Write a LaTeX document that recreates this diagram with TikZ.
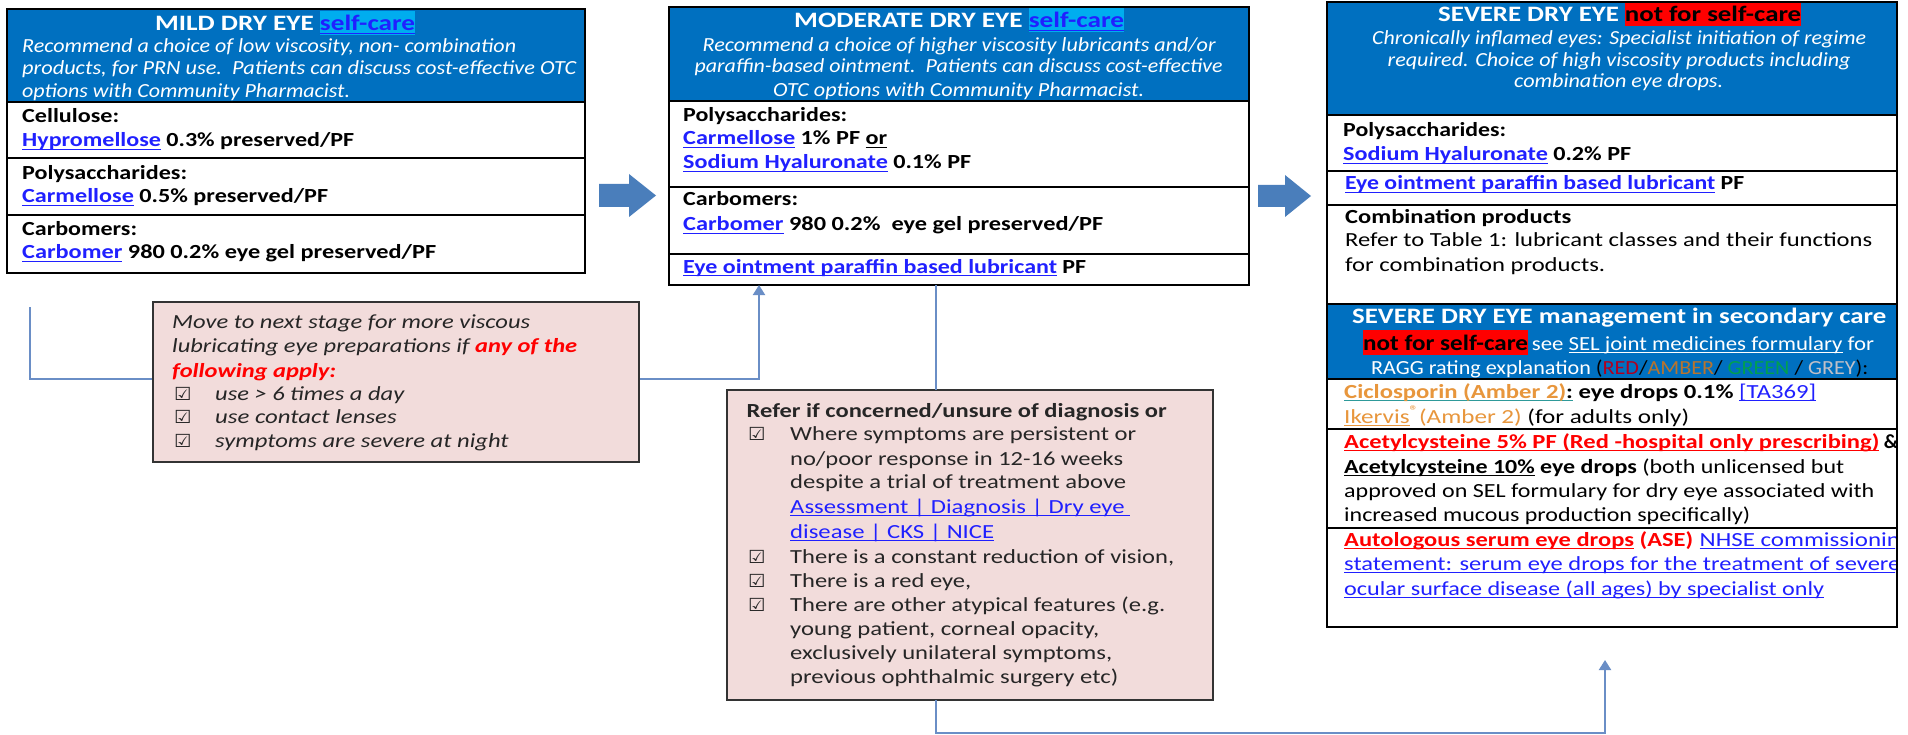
\documentclass[tikz,border=0pt]{standalone}
\usepackage{graphicx}
\usepackage{fontspec}
\setmainfont{Carlito}
\newfontfamily\symfont{DejaVu Sans}
\usetikzlibrary{arrows.meta,calc}
\definecolor{hdrblue}{HTML}{0070C0}
\definecolor{linkblue}{HTML}{2020FF}
\definecolor{pinkfill}{HTML}{F2DCDB}
\definecolor{connblue}{HTML}{6A8EC6}
\definecolor{blockblue}{HTML}{4A7EBB}
\definecolor{amberc}{HTML}{E8963C}
\definecolor{ambertxt}{HTML}{B8742E}
\definecolor{darkred}{HTML}{B00020}
\definecolor{greentxt}{HTML}{00A050}
\definecolor{greytxt}{HTML}{C0C0C8}
\definecolor{tealline}{HTML}{2E9A9A}
\definecolor{bodygrey}{HTML}{262626}
\newcommand{\myul}[1]{{\setbox0=\hbox{#1}\rlap{\vrule height -1.6pt depth 2.9pt width \wd0}\box0}}
\newcommand{\lnk}[1]{\textcolor{linkblue}{\myul{#1}}}
\newcommand{\hlstrut}{\rule[-4.5pt]{0pt}{24.5pt}}
\newcommand{\cyanhl}[1]{{\setlength{\fboxsep}{0pt}\colorbox{cyan}{\hlstrut #1}}}
\newcommand{\redhl}[1]{{\setlength{\fboxsep}{0pt}\colorbox{red}{\hlstrut\textcolor{black}{#1}}}}
\newcommand{\chk}{\resizebox{17.5pt}{\height}{\symfont\bfseries\fontsize{18}{20}\selectfont ☑}}
\newcommand{\fsz}[2]{\fontsize{#1}{#2}\selectfont}
\newcommand{\fitw}[2]{\resizebox{#1pt}{\height}{#2}}
\begin{document}
\begin{tikzpicture}[x=1pt,y=-1pt,
  frame/.style={draw=black,line width=2.2pt,inner sep=0pt,outer sep=0pt},
  pinkbox/.style={draw=black!80,fill=pinkfill,line width=2pt,inner sep=0pt,outer sep=0pt},
  divider/.style={draw=black,line width=1.8pt},
  titletxt/.style={inner sep=0pt,anchor=base west,text=white,font=\fsz{22}{25}\bfseries},
  hital/.style={inner sep=0pt,anchor=base west,text=white,font=\fsz{20}{23}\itshape},
  bodyb/.style={inner sep=0pt,anchor=base west,font=\fsz{20}{24}\bfseries},
  bodyr/.style={inner sep=0pt,anchor=base west,font=\fsz{20}{24}},
  pinkit/.style={inner sep=0pt,anchor=base west,text=bodygrey,font=\fsz{20}{23}\itshape},
  pinkr/.style={inner sep=0pt,anchor=base west,text=bodygrey,font=\fsz{20}{24}},
  chkbox/.style={inner sep=0pt,anchor=base west,text=bodygrey},
  conn/.style={draw=connblue,line width=2pt},
  tipped/.style={-{Triangle[width=12pt,length=10pt]}}
]
\useasboundingbox (0,0) rectangle (1908,735);
\fill[white] (0,0) rectangle (1908,735);

% ---------------- MILD ----------------
\fill[hdrblue] (7,9) rectangle (585,102);
\draw[divider] (7,102) -- (585,102);
\draw[divider] (7,158) -- (585,158);
\draw[divider] (7,215) -- (585,215);
\node[frame,anchor=north west,minimum width=578pt,minimum height=264pt] (mild) at (7,9) {};
\node[titletxt] (mildt) at (155,31) {\fitw{260}{MILD DRY EYE \cyanhl{\textcolor{linkblue}{\myul{self-care}}}}};
\node[hital] (mildh1) at (22,53) {\fitw{494}{Recommend a choice of low viscosity, non- combination}};
\node[hital] (mildh2) at (22,75) {\fitw{554}{products, for PRN use.\ \ Patients can discuss cost-effective OTC}};
\node[hital] (mildh3) at (22,98) {\fitw{328}{options with Community Pharmacist.}};
\node[bodyb] (mild1a) at (22,123) {\fitw{97}{Cellulose:}};
\node[bodyb] (mild1b) at (22,147) {\fitw{332}{\lnk{Hypromellose} 0.3\% preserved/PF}};
\node[bodyb] (mild2a) at (22,180) {\fitw{165}{Polysaccharides:}};
\node[bodyb] (mild2b) at (22,203) {\fitw{306}{\lnk{Carmellose} 0.5\% preserved/PF}};
\node[bodyb] (mild3a) at (22,236) {\fitw{115}{Carbomers:}};
\node[bodyb] (mild3b) at (22,259) {\fitw{414}{\lnk{Carbomer} 980 0.2\% eye gel preserved/PF}};

% ---------------- MODERATE ----------------
\fill[hdrblue] (669,7) rectangle (1249,101);
\draw[divider] (669,101) -- (1249,101);
\draw[divider] (669,187) -- (1249,187);
\draw[divider] (669,254) -- (1249,254);
\node[frame,anchor=north west,minimum width=580pt,minimum height=278pt] (moderate) at (669,7) {};
\node[titletxt] (modt) at (794,28) {\fitw{330}{MODERATE DRY EYE \cyanhl{\textcolor{linkblue}{\myul{self-care}}}}};
\node[hital] (modh1) at (702.5,52) {\fitw{513}{Recommend a choice of higher viscosity lubricants and/or}};
\node[hital] (modh2) at (694.5,73) {\fitw{528}{paraffin-based ointment.\ \ Patients can discuss cost-effective}};
\node[hital] (modh3) at (773,97) {\fitw{371}{OTC options with Community Pharmacist.}};
\node[bodyb] (mod1a) at (683,122) {\fitw{164}{Polysaccharides:}};
\node[bodyb] (mod1b) at (683,145) {\fitw{204}{\lnk{Carmellose} 1\% PF \myul{or}}};
\node[bodyb] (mod1c) at (683,169) {\fitw{288}{\lnk{Sodium Hyaluronate} 0.1\% PF}};
\node[bodyb] (mod2a) at (683,206) {\fitw{115}{Carbomers:}};
\node[bodyb] (mod2b) at (683,231) {\fitw{420}{\lnk{Carbomer} 980 0.2\%\ \ eye gel preserved/PF}};
\node[bodyb] (mod3a) at (683,273) {\fitw{403}{\lnk{Eye ointment paraffin based lubricant} PF}};

% ---------------- SEVERE ----------------
\fill[hdrblue] (1327,2) rectangle (1897,115);
\fill[hdrblue] (1327,304) rectangle (1897,379);
\draw[divider] (1327,115) -- (1897,115);
\draw[divider] (1327,171) -- (1897,171);
\draw[divider] (1327,205) -- (1897,205);
\draw[divider] (1327,304) -- (1897,304);
\draw[divider] (1327,379) -- (1897,379);
\draw[divider] (1327,429) -- (1897,429);
\draw[divider] (1327,528) -- (1897,528);
\begin{scope}
\clip (1327,2) rectangle (1895,627);
\node[titletxt] (sevt) at (1438,22) {\fitw{363}{SEVERE DRY EYE \redhl{not for self-care}}};
\node[hital] (sevh1) at (1372,45) {\fitw{494}{Chronically inflamed eyes: Specialist initiation of regime}};
\node[hital] (sevh2) at (1387.5,67) {\fitw{463}{required. Choice of high viscosity products including}};
\node[hital] (sevh3) at (1514,88) {\fitw{209}{combination eye drops.}};
\node[bodyb] (sev1a) at (1343,137) {\fitw{163}{Polysaccharides:}};
\node[bodyb] (sev1b) at (1343,161) {\fitw{288}{\lnk{Sodium Hyaluronate} 0.2\% PF}};
\node[bodyb] (sev2a) at (1345,190) {\fitw{399}{\lnk{Eye ointment paraffin based lubricant} PF}};
\node[bodyb] (sev3a) at (1345,224) {\fitw{226}{Combination products}};
\node[bodyr] (sev3b) at (1345,247) {\fitw{527}{Refer to Table 1: lubricant classes and their functions}};
\node[bodyr] (sev3c) at (1345,272) {\fitw{260}{for combination products.}};
\node[titletxt] (sect1) at (1352,323) {\fitw{534}{SEVERE DRY EYE management in secondary care}};
\node[inner sep=0pt,anchor=base west,text=white,font=\fsz{20}{24}] (sect2) at (1363,350)
  {\fitw{511}{\redhl{\bfseries\fsz{22}{25}not for self-care}\,see \myul{SEL joint medicines formulary} for}};
\node[inner sep=0pt,anchor=base west,text=white,font=\fsz{20}{24}] (sect3) at (1371,374)
  {\fitw{497}{RAGG rating explanation \textcolor{black}{(}\textcolor{darkred}{RED}\textcolor{black}{/}\textcolor{ambertxt}{AMBER}\textcolor{black}{/} \textcolor{greentxt}{GREEN} \textcolor{black}{/} \textcolor{greytxt}{GREY}\textcolor{black}{):}}};
\node[bodyr] (sec1a) at (1344,398) {\fitw{472}{\textcolor{tealline}{\myul{\textcolor{amberc}{\bfseries Ciclosporin (Amber 2)}\textcolor{black}{\bfseries :}}} \textbf{eye drops 0.1\%} \lnk{[TA369]}}};
\node[bodyr] (sec1b) at (1344,423) {\fitw{345}{\textcolor{amberc}{\myul{Ikervis}\textsuperscript{®}(Amber 2)} (for adults only)}};
\node[bodyr] (sec2a) at (1344,448) {\fitw{535}{\textcolor{red}{\bfseries\myul{Acetylcysteine 5\% PF (Red -hospital only prescribing)}}}\ \textbf{\&}};
\node[bodyr] (sec2b) at (1344,473) {\fitw{500}{\textbf{\myul{Acetylcysteine 10\%} eye drops} (both unlicensed but}};
\node[bodyr] (sec2c) at (1344,497) {\fitw{530}{approved on SEL formulary for dry eye associated with}};
\node[bodyr] (sec2d) at (1344,521) {\fitw{406}{increased mucous production specifically)}};
\node[bodyr] (sec3a) at (1344,546) {\fitw{349}{\textcolor{red}{\bfseries\myul{Autologous serum eye drops} (ASE)}}};
\node[bodyr] (sec3a2) at (1699.5,546) {\fitw{212}{\lnk{NHSE commissioning}}};
\node[bodyr] (sec3b) at (1344,570) {\fitw{556}{\lnk{statement: serum eye drops for the treatment of severe}}};
\node[bodyr] (sec3c) at (1344,595) {\fitw{480}{\lnk{ocular surface disease (all ages) by specialist only}}};
\end{scope}
\node[frame,anchor=north west,minimum width=570pt,minimum height=625pt] (severe) at (1327,2) {};

% ---------------- block arrows ----------------
\fill[blockblue] (599,184) -- (629,184) -- (629,174) -- (656,195.5) -- (629,217) -- (629,207) -- (599,207) -- cycle;
\fill[blockblue] (1258,185) -- (1285,185) -- (1285,175) -- (1311,196) -- (1285,217) -- (1285,207) -- (1258,207) -- cycle;

% ---------------- connectors ----------------
\coordinate (start1) at (30,307);
\coordinate (modin) at ($(moderate.south west)+(90,0)$);
\coordinate (modout) at ($(moderate.south west)+(267,0)$);
\coordinate (sevin) at (1605,660);

\draw[conn] (start1) |- (153,379);
\draw[conn,tipped] (639,379) -| (modin);

\node[pinkbox,anchor=north west,minimum width=486pt,minimum height=160pt] (pink1) at (153,302) {};
\node[pinkbox,anchor=north west,minimum width=486pt,minimum height=310pt] (pink2) at (727,390) {};
\coordinate (p2out) at ($(pink2.south west)+(209,0)$);

\draw[conn] (modout) -- (modout |- pink2.north);
\draw[conn,tipped] (p2out) -- ++(0,33) -| (sevin);

% pink 1 text
\node[pinkit] (pk1a) at (172,328) {\fitw{358}{Move to next stage for more viscous}};
\node[pinkit] (pk1b) at (172,352) {\fitw{405}{lubricating eye preparations if \textcolor{red}{\bfseries any of the}}};
\node[pinkit] (pk1c) at (172,377) {\fitw{164}{\textcolor{red}{\bfseries following apply:}}};
\node[chkbox] (ck1) at (174,400) {\chk};
\node[pinkit] (pk1d) at (215,400) {\fitw{189}{use > 6 times a day}};
\node[chkbox] (ck2) at (174,423) {\chk};
\node[pinkit] (pk1e) at (215,423) {\fitw{181.5}{use contact lenses}};
\node[chkbox] (ck3) at (174,447) {\chk};
\node[pinkit] (pk1f) at (215,447) {\fitw{293.5}{symptoms are severe at night}};

% pink 2 text
\node[pinkr] (pk2a) at (746.5,417) {\fitw{420}{\textbf{Refer if concerned/unsure of diagnosis or}}};
\node[chkbox] (ck4) at (748,440) {\chk};
\node[pinkr] (pk2b) at (790,440) {\fitw{346}{Where symptoms are persistent or}};
\node[pinkr] (pk2c) at (790,465) {\fitw{333}{no/poor response in 12-16 weeks}};
\node[pinkr] (pk2d) at (790,488) {\fitw{336}{despite a trial of treatment above}};
\node[pinkr] (pk2e) at (790,513) {\fitw{340}{\lnk{Assessment | Diagnosis | Dry eye }}};
\node[pinkr] (pk2f) at (790,538) {\fitw{204}{\lnk{disease | CKS | NICE}}};
\node[chkbox] (ck5) at (748,563) {\chk};
\node[pinkr] (pk2g) at (790,563) {\fitw{384}{There is a constant reduction of vision,}};
\node[chkbox] (ck6) at (748,587) {\chk};
\node[pinkr] (pk2h) at (790,587) {\fitw{181}{There is a red eye,}};
\node[chkbox] (ck7) at (748,611) {\chk};
\node[pinkr] (pk2i) at (790,611) {\fitw{375}{There are other atypical features (e.g.}};
\node[pinkr] (pk2j) at (790,635) {\fitw{309}{young patient, corneal opacity,}};
\node[pinkr] (pk2k) at (790,659) {\fitw{322}{exclusively unilateral symptoms,}};
\node[pinkr] (pk2l) at (790,683) {\fitw{328}{previous ophthalmic surgery etc)}};
\end{tikzpicture}
\end{document}
